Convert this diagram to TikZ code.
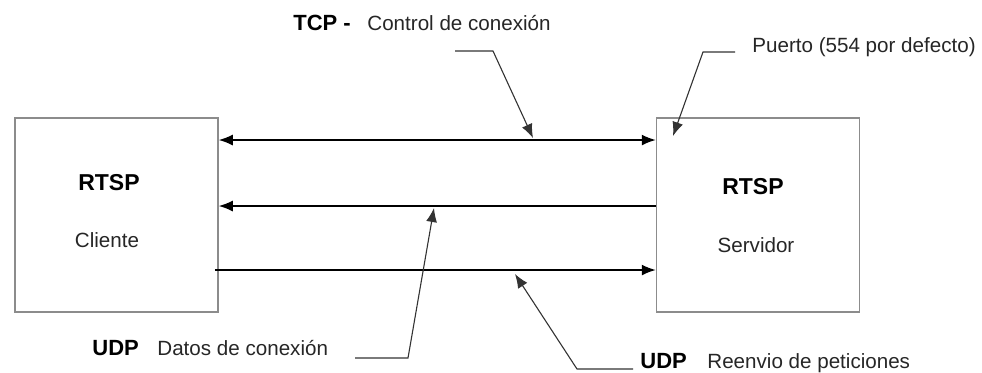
\documentclass[tikz,border=0pt]{standalone}
\usepackage{fontspec}
\setmainfont{Liberation Sans}
\usetikzlibrary{arrows.meta}
\begin{document}
\begin{tikzpicture}[x=0.5pt,y=-0.5pt,
  tip/.style={-{Latex[length=7pt,width=5.5pt]}},
  box/.style={draw=black!45,line width=0.75pt,minimum width=101.5pt,minimum height=97pt,inner sep=0pt},
  flow/.style={line width=0.75pt,tip},
  flowboth/.style={line width=0.75pt,{Latex[length=7pt,width=5.5pt]}-{Latex[length=7pt,width=5.5pt]}},
  callout/.style={draw=black!80,line width=0.55pt,tip},
  txt/.style={font=\fontsize{10.3}{12}\selectfont,inner sep=0pt,anchor=base west,text=black!85},
  bold/.style={font=\fontsize{11}{13}\selectfont\bfseries,inner sep=0pt,anchor=base west},
  title/.style={font=\fontsize{11.5}{13}\selectfont\bfseries,inner sep=0pt},
]
\useasboundingbox (0,0) rectangle (982,372);

% client and server boxes
\node[box] (cli) at (116.5,215) {};
\node[box] (srv) at (758,215) {};
\node[title] (cliT) at (109,183) {RTSP};
\node[txt,anchor=center] (cliS) at (107,240) {Cliente};
\node[title] (srvT) at (753,187) {RTSP};
\node[txt,anchor=center] (srvS) at (756,245) {Servidor};

% connections between the boxes
\draw[flowboth] (cli.east |- 0,140) -- (srv.west |- 0,140);
\draw[flow] (srv.west |- 0,206) -- (cli.east |- 0,206);
\draw[flow] ([xshift=-2pt]cli.east |- 0,270) -- (srv.west |- 0,270);

% labels
\node[bold] (tcpB) at (293,30) {TCP -};
\node[txt] (tcpT) at (367,30) {Control de conexión};
\node[txt] (port) at (752,52) {Puerto (554 por defecto)};
\node[bold] (udp1B) at (92,355) {UDP};
\node[txt] (udp1T) at (157,355) {Datos de conexión};
\node[bold] (udp2B) at (640,368) {UDP};
\node[txt] (udp2T) at (707,368) {Reenvio de peticiones};

% callout leaders
\coordinate (c1a) at (455,51); \coordinate (c1b) at (493,51); \coordinate (c1t) at (533,138);
\coordinate (c2a) at (735,52); \coordinate (c2b) at (703,52); \coordinate (c2t) at (673,136);
\coordinate (c3a) at (355,358); \coordinate (c3b) at (408,358); \coordinate (c3t) at (434,208);
\coordinate (c4a) at (633,369); \coordinate (c4b) at (577,369); \coordinate (c4t) at (515,274);
\draw[callout] (c1a) -- (c1b) -- (c1t);
\draw[callout] (c2a) -- (c2b) -- (c2t);
\draw[callout] (c3a) -- (c3b) -- (c3t);
\draw[callout] (c4a) -- (c4b) -- (c4t);
\end{tikzpicture}
\end{document}
